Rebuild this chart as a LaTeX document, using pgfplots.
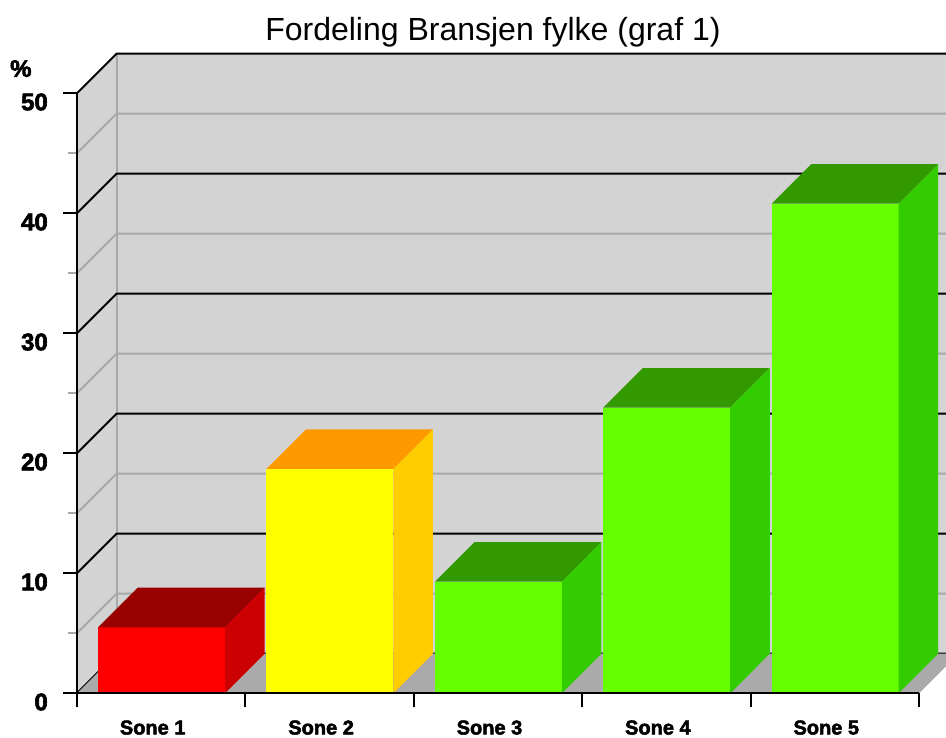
\documentclass[border=0pt]{standalone}
\usepackage{fontspec}
\setmainfont{Liberation Sans}
\newfontfamily\heavy[FakeBold=2.5]{Liberation Sans Bold}
\usepackage{pgfplots}
\pgfplotsset{compat=1.18}
\definecolor{wallgray}{HTML}{D3D3D3}
\definecolor{floorgray}{HTML}{AAAAAA}
\definecolor{gridgray}{HTML}{A8A8A8}
\definecolor{redF}{HTML}{FF0000}\definecolor{redT}{HTML}{990000}\definecolor{redS}{HTML}{CC0000}
\definecolor{yelF}{HTML}{FFFF00}\definecolor{yelT}{HTML}{FF9900}\definecolor{yelS}{HTML}{FFCC00}
\definecolor{grnF}{HTML}{66FF00}\definecolor{grnT}{HTML}{339900}\definecolor{grnS}{HTML}{33CC00}
\begin{document}
\begin{tikzpicture}
\begin{axis}[
  scale only axis, width=842pt, height=600pt,
  xmin=0, xmax=5, ymin=0, ymax=50,
  clip=false, axis on top=true, no markers,
  axis x line*=bottom, axis y line*=left,
  axis line style={line width=2pt, black, -},
  tick align=outside,
  major tick length=14pt, minor tick length=9pt,
  tick style={line width=2pt, black},
  minor y tick style={line width=2pt, gridgray},
  /pgf/number format/assume math mode=true,
  ytick={0,10,20,30,40,50},
  minor ytick={5,15,25,35,45},
  yticklabel style={font=\heavy\fontsize{24}{24}\selectfont, anchor=north east, inner sep=0pt, xshift=-15pt},
  xtick={0,1,2,3,4,5}, xticklabels={},
  extra x ticks={0.5,1.5,2.5,3.5,4.5},
  extra x tick labels={Sone 1,Sone 2,Sone 3,Sone 4,Sone 5},
  extra x tick style={major tick length=0pt,
    xticklabel style={font=\heavy\fontsize{20}{20}\selectfont, anchor=north, inner sep=0pt, yshift=-27pt, xshift=-8.5pt}},
]
% walls (left + back)
\addplot[fill=wallgray, draw=none] coordinates {(0,0) (0,50) (0.235,53.3) (5.1603,53.3) (5.1603,3.3) (0.235,3.3)} -- cycle;
% minor grid
\pgfplotsinvokeforeach{5,15,25,35,45}{
  \draw[gridgray, line width=2pt] (axis cs:0,#1) -- (axis cs:0.235,#1+3.3) -- (axis cs:5.1603,#1+3.3);
}
\draw[gridgray, line width=2pt] (axis cs:0.235,3.3) -- (axis cs:0.235,53.3);
% major grid
\pgfplotsinvokeforeach{0,10,20,30,40,50}{
  \draw[black, line width=2pt] (axis cs:0,#1) -- (axis cs:0.235,#1+3.3) -- (axis cs:5.1603,#1+3.3);
}
% floor
\addplot[fill=floorgray, draw=none] coordinates {(0,0) (5,0) (5.1603,2.251) (5.1603,3.3) (0.235,3.3)} -- cycle;
% Sone 1 : 5.5
\addplot[fill=redF, draw=none] coordinates {(0.125,0) (0.879,0) (0.879,5.5) (0.125,5.5)} -- cycle;
\addplot[fill=redT, draw=none] coordinates {(0.125,5.5) (0.879,5.5) (1.114,8.8) (0.360,8.8)} -- cycle;
\addplot[fill=redS, draw=none] coordinates {(0.879,0) (1.114,3.3) (1.114,8.8) (0.879,5.5)} -- cycle;
% Sone 2 : 18.7
\addplot[fill=yelF, draw=none] coordinates {(1.125,0) (1.879,0) (1.879,18.7) (1.125,18.7)} -- cycle;
\addplot[fill=yelT, draw=none] coordinates {(1.125,18.7) (1.879,18.7) (2.114,22.0) (1.360,22.0)} -- cycle;
\addplot[fill=yelS, draw=none] coordinates {(1.879,0) (2.114,3.3) (2.114,22.0) (1.879,18.7)} -- cycle;
% Sone 3 : 9.3
\addplot[fill=grnF, draw=none] coordinates {(2.125,0) (2.879,0) (2.879,9.3) (2.125,9.3)} -- cycle;
\addplot[fill=grnT, draw=none] coordinates {(2.125,9.3) (2.879,9.3) (3.114,12.6) (2.360,12.6)} -- cycle;
\addplot[fill=grnS, draw=none] coordinates {(2.879,0) (3.114,3.3) (3.114,12.6) (2.879,9.3)} -- cycle;
% Sone 4 : 23.8
\addplot[fill=grnF, draw=none] coordinates {(3.125,0) (3.879,0) (3.879,23.8) (3.125,23.8)} -- cycle;
\addplot[fill=grnT, draw=none] coordinates {(3.125,23.8) (3.879,23.8) (4.114,27.1) (3.360,27.1)} -- cycle;
\addplot[fill=grnS, draw=none] coordinates {(3.879,0) (4.114,3.3) (4.114,27.1) (3.879,23.8)} -- cycle;
% Sone 5 : 40.8
\addplot[fill=grnF, draw=none] coordinates {(4.125,0) (4.879,0) (4.879,40.8) (4.125,40.8)} -- cycle;
\addplot[fill=grnT, draw=none] coordinates {(4.125,40.8) (4.879,40.8) (5.114,44.1) (4.360,44.1)} -- cycle;
\addplot[fill=grnS, draw=none] coordinates {(4.879,0) (5.114,3.3) (5.114,44.1) (4.879,40.8)} -- cycle;
% texts
\node[font=\fontsize{32}{32}\selectfont, anchor=base] at (axis cs:2.470,54.36) {Fordeling Bransjen fylke (graf 1)};
\node[font=\heavy\fontsize{24}{24}\selectfont, anchor=north west, inner sep=0pt] at (axis cs:-0.398,52.78) {\%};
\coordinate (O) at (axis cs:0,0);
\end{axis}
\pgfresetboundingbox
\path (O) ++(-77pt,-44.7pt) rectangle ++(946pt,738pt);
\end{tikzpicture}
\end{document}
